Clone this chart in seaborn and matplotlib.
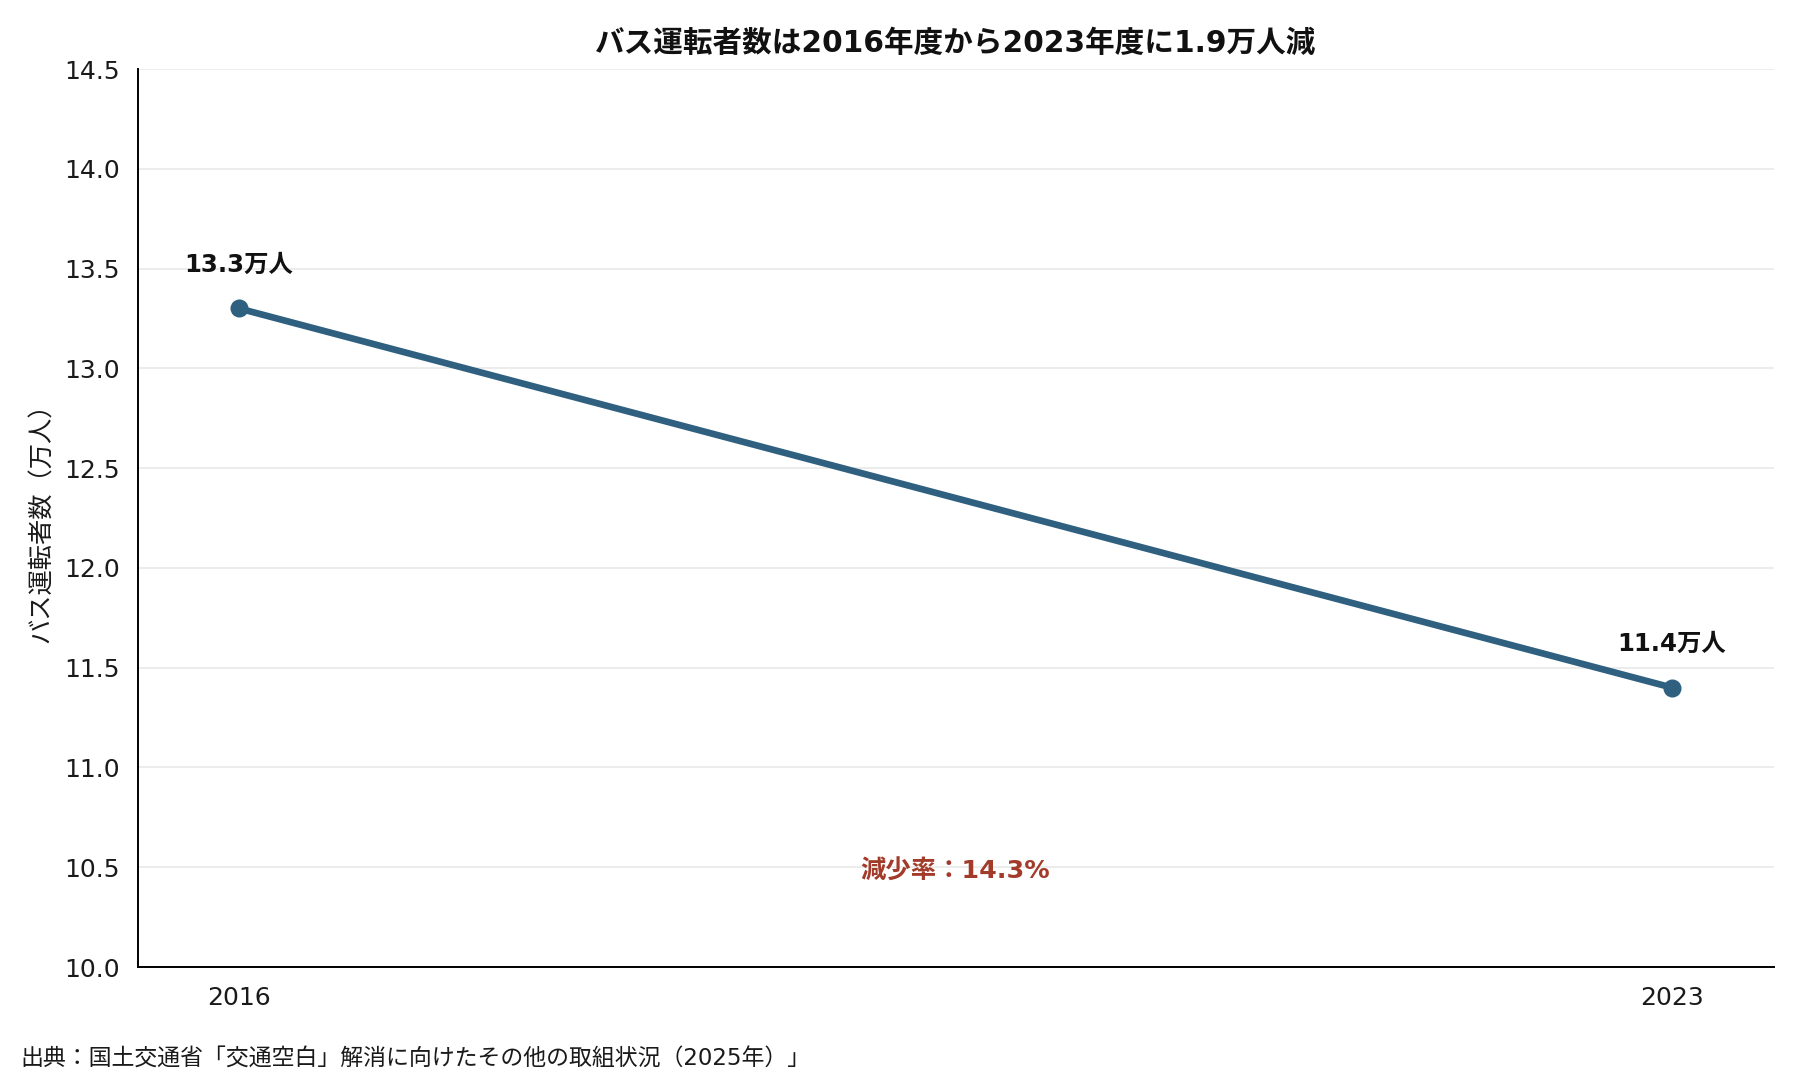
import matplotlib
matplotlib.use("Agg")
import matplotlib.pyplot as plt
import seaborn as sns
import pandas as pd

# ---- data ----
years = [2016, 2023]
drivers = [13.3, 11.4]          # 万人
point_labels = ["13.3万人", "11.4万人"]
title = "バス運転者数は2016年度から2023年度に1.9万人減"
ylabel = "バス運転者数（万人）"
rate_label = "減少率：14.3%"
source = "出典：国土交通省「交通空白」解消に向けたその他の取組状況（2025年）」"
yticks = [10.0, 10.5, 11.0, 11.5, 12.0, 12.5, 13.0, 13.5, 14.0, 14.5]

df = pd.DataFrame({"year": years, "drivers": drivers})

sns.set_theme(style="white")
fam = ["DejaVu Sans", "Noto Sans CJK JP"]
plt.rcParams["font.family"] = fam

LINE = "#30607f"
RED = "#a23b2a"

fig = plt.figure(figsize=(18, 10.8), dpi=100)
ax = fig.add_axes([138/1800, 1-967/1080, (1774-138)/1800, (967-69)/1080])

sns.lineplot(data=df, x="year", y="drivers", ax=ax, color=LINE, linewidth=4.8,
             marker="o", markersize=13, markeredgewidth=0, zorder=3)

span = years[-1] - years[0]
ax.set_xlim(years[0] - 0.0705*span, years[-1] + 0.0712*span)
ax.set_ylim(yticks[0], yticks[-1])
ax.set_xticks(years)
ax.set_xticklabels([str(y) for y in years])
ax.set_yticks(yticks)
ax.set_yticklabels([f"{t:.1f}" for t in yticks])

ax.grid(axis="y", color="#ebebeb", linewidth=1.3, zorder=0)
ax.grid(axis="x", visible=False)
for s in ["top", "right"]:
    ax.spines[s].set_visible(False)
for s in ["left", "bottom"]:
    ax.spines[s].set_color("black")
    ax.spines[s].set_linewidth(1.4)

ax.tick_params(axis="both", which="major", length=6, width=1.3, color="black",
               labelsize=18, labelcolor="#1a1a1a")
ax.tick_params(axis="x", pad=7.5)
ax.tick_params(axis="y", pad=7)
for lab in ax.get_xticklabels() + ax.get_yticklabels():
    lab.set_family(fam)

ax.set_xlabel("")
ax.set_ylabel("")

for x, y, t in zip(years, drivers, point_labels):
    ax.annotate(t, (x, y), xytext=(0, 26.5), textcoords="offset points",
                ha="center", va="baseline", fontsize=17.6, fontweight="bold",
                color="#111111", family=fam)

ax.text((years[0] + years[-1]) / 2, 10.48, rate_label, ha="center", va="center",
        fontsize=18.3, fontweight="bold", color=RED, family=fam)

fig.text(956/1800, 1-43.5/1080, title, ha="center", va="center",
         fontsize=21.3, fontweight="bold", color="#111111", family=fam)
fig.text(42/1800, 1-517/1080, ylabel, ha="center", va="center", rotation=90,
         fontsize=18.2, color="#1a1a1a", family=fam)
fig.text(20/1800, 1-1059/1080, source, ha="left", va="center",
         fontsize=16.5, color="#1a1a1a", family=fam)

fig.savefig("out.png", dpi=100, facecolor="white")
